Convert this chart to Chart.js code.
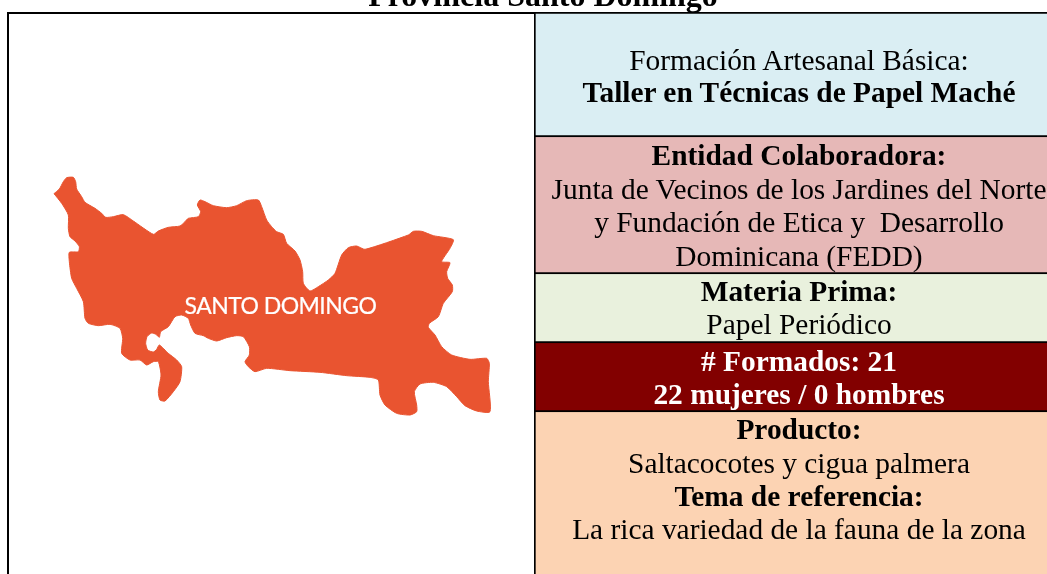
<!DOCTYPE html>
<html><head><meta charset="utf-8">
<script src="https://cdn.jsdelivr.net/npm/chart.js@4"></script>
<style>
html,body{margin:0;padding:0;background:#fff;width:1047px;height:574px;overflow:hidden}
#wrap{position:relative;width:1047px;height:574px;overflow:hidden}
canvas{position:absolute}
#frame{position:absolute;left:7px;top:12px;width:529px;height:570px;border:2px solid #000;box-sizing:border-box}
.t{position:absolute;white-space:pre;transform:translateX(-50%);font-family:"Liberation Serif",serif;font-size:29.4px;line-height:34px;color:#000}
.b{font-weight:bold}
.w{color:#fff}
.title{font-size:32px}
#map-label{position:absolute;left:280.5px;top:290px;transform:translateX(-50%);font-family:Lato,sans-serif;font-size:23px;font-weight:400;letter-spacing:-0.55px;-webkit-text-stroke:0.2px #fff;line-height:30px;color:#fff;white-space:nowrap}
</style></head><body>
<div id="wrap">
<div id="frame"></div>
<canvas id="mapChart" width="535" height="574" style="left:0;top:0"></canvas>
<canvas id="cellChart" width="513" height="562" style="left:534px;top:12px"></canvas>
<div id="texts"></div>
</div>
<script>
// Map outline (axis units: thirds of a pixel)
const mapX=[162,178,190,200,220,227,230,245,255,285,305,317,340,370,400,460,475,505,540,555,565,595,602,592,600,615,640,680,710,740,775,785,800,815,830,850,860,885,900,908,910,930,955,985,1005,1025,1045,1070,1095,1225,1240,1265,1300,1360,1350,1325,1350,1340,1343,1357,1357,1330,1315,1288,1285,1305,1325,1355,1410,1460,1468,1465,1470,1430,1395,1370,1340,1300,1260,1243,1250,1250,1230,1190,1155,1140,1135,1110,1040,960,870,800,765,745,735,748,748,730,710,680,650,625,610,585,572,565,545,525,505,482,478,468,455,441,437,443,460,470,478,505,530,545,540,520,495,480,475,483,475,460,440,420,390,365,368,360,330,295,265,255,250,230,215,208,208,235,238,225,210,205,205,185,162];
const mapY=[581,567,545,533,532,545,567,590,607,625,640,652,650,644,663,703,693,682,678,665,655,650,635,615,600,605,617,623,617,602,600,620,660,680,695,703,730,753,780,815,850,873,860,840,820,765,743,738,748,705,694,694,707,719,745,785,788,815,835,855,875,910,950,970,982,1005,1040,1065,1078,1075,1090,1145,1235,1233,1217,1190,1160,1147,1152,1175,1215,1235,1245,1240,1215,1185,1140,1132,1127,1117,1112,1105,1115,1100,1085,1065,1040,1010,1007,1013,1023,1015,1007,1000,975,955,945,950,980,995,1012,1003,999,1010,1030,1050,1056,1048,1035,1060,1080,1100,1145,1175,1203,1200,1175,1125,1085,1085,1095,1080,1080,1060,1015,985,973,977,970,955,905,865,835,785,757,755,740,723,710,685,645,610,581];
// Table rows
const rowNames=["Formación","Entidad","Materia","Formados","Producto"];
const rowHeights=[125,137,69,69,165];
const rowColors=["#DAEEF3","#E6B8B7","#E9F1DD","#820000","#FCD3B3"];
const mapColor="#E95430";
const titleText="Provincia Santo Domingo";
const mapLabel="SANTO DOMINGO";
const cellLines=[
 ["Formación Artesanal Básica:",0,"",43],
 ["Taller en Técnicas de Papel Maché",1,"",75],
 ["Entidad Colaboradora:",1,"",138],
 ["Junta de Vecinos de los Jardines del Norte",0,"",172],
 ["y Fundación de Etica y  Desarrollo",0,"",205],
 ["Dominicana (FEDD)",0,"",239],
 ["Materia Prima:",1,"",274],
 ["Papel Periódico",0,"",307],
 ["# Formados: 21",1,"w",344],
 ["22 mujeres / 0 hombres",1,"w",377],
 ["Producto:",1,"",412],
 ["Saltacocotes y cigua palmera",0,"",446],
 ["Tema de referencia:",1,"",479],
 ["La rica variedad de la fauna de la zona",0,"",512]
];

new Chart(document.getElementById('mapChart'),{
 type:'scatter',
 data:{datasets:[{data:mapX.map((x,i)=>({x:x,y:mapY[i]})),showLine:true,fill:'shape',
   backgroundColor:mapColor,borderColor:mapColor,borderWidth:1,pointRadius:0,tension:0.2}]},
 options:{responsive:false,animation:false,layout:{padding:0},
  plugins:{legend:{display:false},tooltip:{enabled:false}},
  scales:{x:{type:'linear',display:false,min:0,max:1605},y:{type:'linear',display:false,min:0,max:1722,reverse:true}}}
});

new Chart(document.getElementById('cellChart'),{
 type:'bar',
 data:{labels:["Fila"],datasets:rowHeights.map((h,i)=>({label:rowNames[i],data:[h],backgroundColor:rowColors[i],
   borderColor:"#000",borderSkipped:false,
   borderWidth:i===0?{top:2,bottom:2,left:2,right:0}:{top:0,bottom:2,left:2,right:0},
   barPercentage:1,categoryPercentage:1}))},
 options:{responsive:false,animation:false,layout:{padding:0},
  plugins:{legend:{display:false},tooltip:{enabled:false}},
  scales:{x:{stacked:true,display:false},y:{stacked:true,display:false,reverse:true,min:0,max:562}}}
});

const host=document.getElementById('texts');
function addLine(txt,cls,left,top){const d=document.createElement('div');d.className='t '+cls;d.textContent=txt;d.style.left=left+'px';d.style.top=top+'px';host.appendChild(d);}
addLine(titleText,'b title',543,-22);
cellLines.forEach(l=>addLine(l[0],(l[1]?'b ':'')+l[2],799,l[3]));
const ml=document.createElement('div');ml.id='map-label';ml.textContent=mapLabel;host.appendChild(ml);
</script>
</body></html>
